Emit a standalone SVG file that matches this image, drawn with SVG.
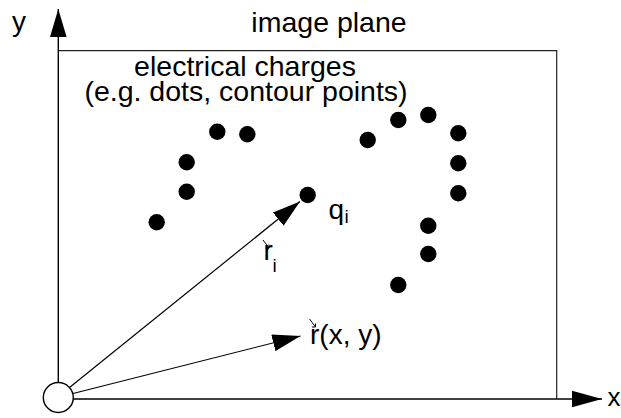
<svg xmlns="http://www.w3.org/2000/svg" width="621" height="418" viewBox="0 0 621 418">
<defs>
<style>
.t{font-family:"Liberation Sans",Arial,sans-serif;fill:#000}
.ax{stroke:#000;stroke-width:1.4;fill:none}
.vec{stroke:#000;stroke-width:1.2;fill:none}
.fr{stroke:#222;stroke-width:1.2;fill:none}
.dot{fill:#000}
.acc{stroke:#000;stroke-width:1;fill:none}
</style>
<marker id="ah" markerWidth="28" markerHeight="17" refX="28" refY="8.5" orient="auto" markerUnits="userSpaceOnUse">
<path d="M0,0 L28,8.5 L0,17 z" fill="#000"/>
</marker>
</defs>
<rect width="621" height="418" fill="#fff"/>
<g id="image-plane">
<path class="fr" d="M58.3,50.7 H556.7 V399"/>
<text class="t" x="329" y="32" font-size="28.5" text-anchor="middle">image plane</text>
</g>
<g id="axes">
<line class="ax" x1="58.3" y1="382" x2="58.3" y2="9"/>
<line class="ax" x1="73.3" y1="399" x2="602" y2="399"/>
<circle id="origin" cx="58.3" cy="397.5" r="15" fill="#fff" stroke="#000" stroke-width="1.4"/>
<text class="t" x="12" y="31" font-size="28">y</text>
<text class="t" x="607.5" y="406" font-size="26">x</text>
</g>
<g id="axis-arrows">
<path d="M58.3,9 L50,37 L66.6,37 z" fill="#000"/>
<path d="M602,399 L572,390.7 L572,407.3 z" fill="#000"/>
</g>
<g id="charges-label">
<text class="t" x="245" y="75.5" font-size="28.5" text-anchor="middle">electrical charges</text>
<text class="t" x="246" y="101" font-size="28.5" text-anchor="middle">(e.g. dots, contour points)</text>
</g>
<g id="charges">
<circle class="dot" cx="217.3" cy="131.7" r="8.2"/>
<circle class="dot" cx="247.3" cy="134.3" r="8.2"/>
<circle class="dot" cx="186.7" cy="162.3" r="8.2"/>
<circle class="dot" cx="186.7" cy="191.7" r="8.2"/>
<circle class="dot" cx="156.7" cy="222.3" r="8.2"/>
<circle class="dot" cx="367.7" cy="140" r="8.2"/>
<circle class="dot" cx="398.3" cy="120" r="8.2"/>
<circle class="dot" cx="428.3" cy="115" r="8.2"/>
<circle class="dot" cx="458.3" cy="133.3" r="8.2"/>
<circle class="dot" cx="458.3" cy="163.3" r="8.2"/>
<circle class="dot" cx="458.3" cy="193.3" r="8.2"/>
<circle class="dot" cx="428.3" cy="225.7" r="8.2"/>
<circle class="dot" cx="428.3" cy="254" r="8.2"/>
<circle class="dot" cx="398.3" cy="285" r="8.2"/>
</g>
<g id="q-i">
<circle class="dot" cx="307.7" cy="195" r="8.2"/>
<text class="t" x="328.5" y="219" font-size="28">q</text>
<text class="t" x="344.5" y="223" font-size="19">i</text>
</g>
<g id="connectors">
<line class="vec" x1="69.5" y1="387.5" x2="300" y2="201.5" marker-end="url(#ah)"/>
<line class="vec" x1="73" y1="393.5" x2="300.5" y2="336" marker-end="url(#ah)"/>
</g>
<g id="r-i-label">
<path class="acc" d="M263,240 L269,248 M265.5,248 H269 V244.5"/>
<text class="t" x="263.5" y="260" font-size="28">r</text>
<text class="t" x="272.5" y="271.5" font-size="19">i</text>
</g>
<g id="r-xy-label">
<path class="acc" d="M309.5,319 L315.5,327 M312,327 H315.5 V323.5"/>
<text class="t" x="310" y="344" font-size="28">r(x, y)</text>
</g>
</svg>
